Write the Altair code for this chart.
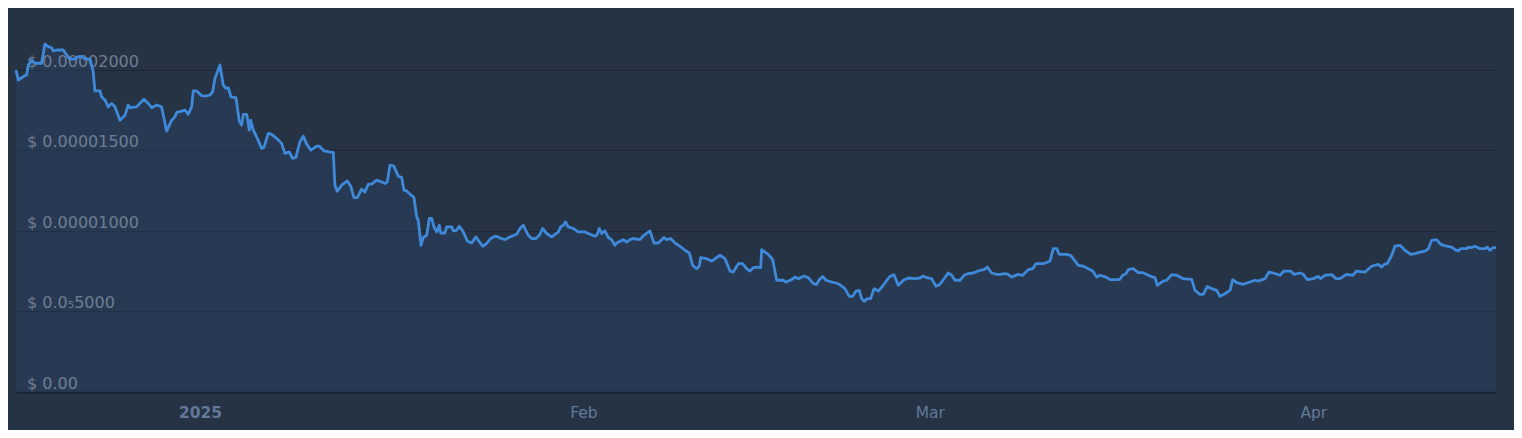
import altair as alt
import pandas as pd

start = "2024-12-17"

# days since 2024-12-17 00:00
days = [
    0.13, 0.31, 0.59, 0.85, 0.99, 1.12, 1.39, 1.66, 2.20, 2.47, 2.74, 3.01, 3.14, 3.42, 3.95,
    4.22, 4.49, 4.90, 5.16, 5.44, 5.70, 6.11, 6.24, 6.37, 6.51, 6.92, 7.05, 7.32, 7.59, 7.86,
    8.13, 8.53, 8.94, 9.20, 9.34, 9.88, 10.15, 10.47, 10.82, 11.10, 11.50, 11.90, 12.31, 12.71, 12.98,
    13.12, 13.52, 13.79, 14.05, 14.33, 14.46, 14.73, 15.14, 15.54, 15.81, 16.03, 16.21, 16.62, 16.88, 17.10,
    17.29, 17.51, 17.91, 18.18, 18.37, 18.50, 18.78, 18.99, 19.10,
    19.31, 19.58, 19.99, 20.17, 20.52, 20.80, 21.20, 21.60, 21.87, 22.22, 22.49, 22.76, 23.08, 23.35, 23.63,
    23.97, 24.43, 24.64, 25.02, 25.45, 25.78, 25.91, 26.10, 26.45, 26.91, 27.18, 27.45, 27.72, 28.07, 28.34,
    28.61, 28.88, 29.28, 29.69, 29.96, 30.14, 30.36, 30.68, 31.03, 31.31, 31.49, 31.71, 31.98, 32.30, 32.52,
    32.65, 32.87, 33.05, 33.33, 33.54, 33.73, 33.94, 34.14, 34.35, 34.46, 34.81, 34.94, 35.35, 35.48, 35.75,
    35.96, 36.29, 36.61, 36.96, 37.31, 37.50, 37.85, 38.18, 38.50, 38.85, 39.11,
    39.25, 39.66, 40.06, 40.60, 40.93, 41.14, 41.54, 41.82, 42.16, 42.43, 42.70, 43.03, 43.43, 43.70, 43.97,
    44.16, 44.37, 44.56, 44.77, 45.18, 45.58, 46.12, 46.53, 46.93, 47.12, 47.28, 47.47, 47.74, 48.01, 48.28,
    48.55, 48.69, 49.01, 49.22, 49.49, 49.76, 50.03, 50.57, 50.89, 51.38, 51.70, 52.05, 52.51, 52.73, 53.05,
    53.40, 53.80, 54.21, 54.56, 54.83, 55.15, 55.36, 55.48, 55.96, 56.37, 57.04, 57.44, 57.85, 58.11, 58.52,
    58.87, 59.20, 59.46,
    59.73, 60.00, 60.33, 60.41, 60.68, 60.94, 61.30, 61.62, 62.15, 62.37, 62.83, 63.10, 63.37, 63.85, 64.18,
    64.58, 64.85, 65.07, 65.34, 65.61, 66.07, 66.41, 66.68, 67.14, 67.49, 67.77, 68.03, 68.30, 68.49, 68.70,
    68.94, 69.22, 69.49, 69.84, 70.24, 70.72, 71.10, 71.45, 71.86, 72.26, 72.80, 73.21, 73.47, 73.75, 74.15,
    74.50, 74.82, 75.49, 75.77, 76.03, 76.44, 76.76, 77.11, 77.51, 78.06, 78.38, 78.65, 79.00, 79.41, 79.67,
    80.08, 80.34, 80.62, 81.15, 81.51, 81.96, 82.32, 82.58, 83.17, 83.45, 83.71, 83.98, 84.26, 84.47, 85.07,
    85.41, 85.66, 86.00, 86.41, 86.81, 87.17, 87.49, 87.76, 88.24, 88.57, 89.11, 89.37, 89.59, 89.86, 90.05,
    90.45, 90.85, 91.26, 91.80, 92.20, 92.39, 92.87, 93.15, 93.55, 93.96, 94.49, 95.17, 95.44, 95.84, 96.11,
    96.43, 96.79, 97.19, 97.46, 97.78, 98.27, 98.48, 98.81, 99.34, 99.88,
    100.29, 100.55, 101.10, 101.42, 101.77, 102.31, 102.63, 103.17, 103.44, 103.93, 104.19, 104.52, 105.00, 105.41, 105.60,
    105.95, 106.49, 106.84, 107.16, 107.70, 108.19, 108.51, 109.18, 109.72, 110.25, 110.53, 110.72, 110.98, 111.34, 111.60,
    112.01, 112.41, 112.87, 113.22, 113.63, 114.03, 114.30, 114.57, 114.97, 115.30, 115.78, 116.19, 116.46, 116.72, 116.92,
    117.40, 117.53, 117.81, 118.07, 118.48, 118.88, 119.07, 119.28, 119.55, 119.77,
]

# price in units of 1e-8 USD
price_1e8 = [
    1997, 1935, 1949, 1962, 1966, 2028, 2059, 2039, 2039, 2157, 2142, 2135, 2115, 2121, 2121,
    2090, 2065, 2065, 2080, 2080, 2065, 2065, 2028, 1986, 1867, 1867, 1831, 1811, 1769, 1790,
    1769, 1686, 1717, 1780, 1763, 1769, 1790, 1815, 1790, 1763, 1780, 1769, 1618, 1686, 1707,
    1734, 1742, 1749, 1722, 1769, 1867, 1867, 1837, 1837, 1842, 1862, 1945, 2028, 1904, 1883,
    1887, 1831, 1825, 1680, 1655, 1722, 1722, 1624, 1686,
    1624, 1583, 1511, 1517, 1604, 1598, 1573, 1542, 1480, 1489, 1449, 1455, 1552, 1587, 1537,
    1500, 1525, 1525, 1496, 1489, 1486, 1283, 1245, 1283, 1309, 1278, 1206, 1206, 1258, 1241,
    1289, 1289, 1314, 1303, 1293, 1303, 1407, 1401, 1339, 1330, 1252, 1247, 1227, 1206, 1086,
    1065, 910, 958, 972, 1076, 1076, 1020, 993, 1034, 986, 986, 1024, 1024, 999, 1003,
    1028, 993, 937, 924, 962, 941, 904, 921, 952, 966, 962,
    955, 945, 962, 978, 1020, 1034, 972, 952, 952, 972, 1014, 983, 962, 978, 993,
    1024, 1034, 1055, 1024, 1014, 993, 993, 978, 966, 978, 1014, 983, 999, 958, 945,
    910, 924, 937, 945, 930, 945, 952, 945, 972, 999, 924, 924, 958, 945, 952,
    924, 904, 879, 862, 786, 765, 780, 834, 827, 812, 848, 827, 750, 744, 796,
    796, 765, 750,
    771, 775, 771, 883, 868, 854, 821, 693, 693, 682, 697, 713, 703, 719, 709,
    672, 668, 697, 717, 693, 682, 676, 668, 641, 593, 593, 626, 630, 579, 562,
    579, 579, 641, 626, 662, 713, 728, 662, 693, 707, 703, 707, 719, 709, 703,
    655, 668, 738, 724, 693, 693, 724, 734, 738, 755, 759, 775, 738, 730, 730,
    734, 730, 713, 730, 724, 759, 765, 796, 796, 803, 811, 889, 889, 854, 854,
    846, 821, 786, 780, 765, 750, 713, 724, 713, 697, 697, 699, 724, 734, 759,
    765, 740, 740, 719, 709, 662, 688, 693, 728, 724, 703, 699, 630, 606, 606,
    655, 641, 630, 593, 606, 630, 697, 678, 668, 682,
    693, 688, 703, 744, 738, 724, 750, 750, 730, 738, 730, 697, 703, 717, 703,
    724, 728, 703, 703, 730, 724, 750, 744, 780, 792, 775, 792, 796, 848, 904,
    910, 879, 854, 858, 868, 873, 889, 941, 945, 916, 904, 899, 883, 875, 889,
    889, 899, 896, 904, 889, 889, 899, 879, 896, 896,
]

y_ticks = [0, 0.000005, 0.00001, 0.000015, 0.00002]
y_labels = ["$ 0.00", "$ 0.0\u20855000", "$ 0.00001000", "$ 0.00001500", "$ 0.00002000"]
y_max = 0.000023815

x_ticks = [(2025, 1, 1), (2025, 2, 1), (2025, 3, 1), (2025, 4, 1)]
x_labels = ["2025", "Feb", "Mar", "Apr"]

df = pd.DataFrame({
    "time": pd.Timestamp(start) + pd.to_timedelta(days, unit="D"),
    "price": [p * 1e-8 for p in price_1e8],
})
label_df = pd.DataFrame({"price": y_ticks, "label": y_labels})

x_expr = "''"
for (yr, mo, dt), lab in reversed(list(zip(x_ticks, x_labels))):
    x_expr = f"month(datum.value) == {mo - 1} ? '{lab}' : ({x_expr})"

x_values = [alt.DateTime(year=yr, month=mo, date=dt) for yr, mo, dt in x_ticks]

x_enc = alt.X(
    "time:T",
    scale=alt.Scale(nice=False, padding=0),
    axis=alt.Axis(
        values=x_values,
        labelExpr=x_expr,
        title=None,
        grid=False,
        ticks=False,
        domain=True,
        domainColor="#1b2330",
        domainWidth=2,
        labelColor="#62799a",
        labelFont="DejaVu Sans",
        labelFontSize=15.5,
        labelPadding=13,
        labelFontWeight={"condition": {"test": "month(datum.value) == 0", "value": "bold"}, "value": "normal"},
        labelOverlap=False,
        labelFlush=False,
    ),
)

y_enc = alt.Y(
    "price:Q",
    scale=alt.Scale(domain=[0, y_max], nice=False, zero=True),
    axis=alt.Axis(
        values=y_ticks,
        labels=False,
        title=None,
        grid=True,
        gridColor="#1c2634",
        gridWidth=1,
        ticks=False,
        domain=False,
    ),
)

area = alt.Chart(df).mark_area(color="#2d4d74", opacity=0.3).encode(x=x_enc, y=y_enc)

labels = alt.Chart(label_df).mark_text(
    align="left",
    baseline="alphabetic",
    dy=-3,
    font="DejaVu Sans",
    fontSize=16,
    color="#6e7e92",
).encode(y="price:Q", x=alt.value(11), text="label:N")

line = alt.Chart(df).mark_line(
    color="#3f89da", strokeWidth=2.8, strokeJoin="round"
).encode(x="time:T", y="price:Q")

chart = (
    alt.layer(area, labels, line)
    .properties(
        width=1480,
        height=384,
        background="#263345",
        padding={"left": 8, "top": 0, "right": 18, "bottom": 38},
        autosize=alt.AutoSizeParams(type="none"),
    )
    .configure_view(strokeWidth=0)
)

chart.save("out.html", embed_options={"renderer": "svg", "actions": False})
